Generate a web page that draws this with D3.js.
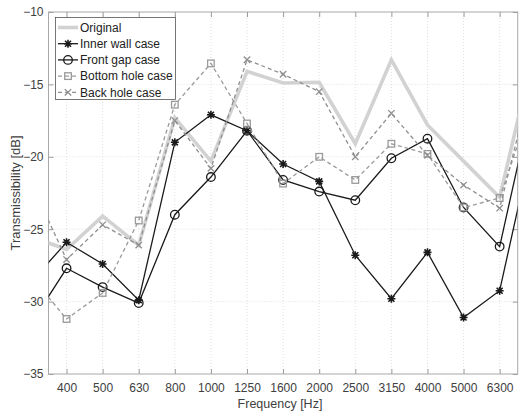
<!DOCTYPE html>
<html><head><meta charset="utf-8">
<script src="https://cdn.jsdelivr.net/npm/d3@7"></script>
<style>body{margin:0;background:#fff}svg{display:block}</style>
</head><body><svg id="c" width="527" height="412"></svg>
<script>
const freqs = ["315","400","500","630","800","1000","1250","1600","2000","2500","3150","4000","5000","6300","8000"];
const tickLabels = ["400","500","630","800","1000","1250","1600","2000","2500","3150","4000","5000","6300"];
const yTicks = [-35,-30,-25,-20,-15,-10];
const original   = [-25.5,-26.4,-24.1,-26.1,-17.3,-20.3,-14.1,-14.9,-14.85,-19.1,-13.3,-17.8,-20.3,-22.8,-12.2];
const innerWall  = [-28.7,-25.9,-27.4,-29.9,-19.0,-17.1,-18.2,-20.5,-21.7,-26.8,-29.8,-26.6,-31.1,-29.25,-18.0];
const frontGap   = [-31.6,-27.7,-29.0,-30.1,-24.0,-21.4,-18.2,-21.6,-22.4,-23.0,-20.1,-18.75,-23.5,-26.2,-15.0];
const bottomHole = [-28.2,-31.2,-29.4,-24.4,-16.4,-13.55,-17.7,-21.85,-20.0,-21.6,-19.1,-19.8,-23.5,-22.85,-15.5];
const backHole   = [-21.7,-27.1,-24.7,-26.1,-17.5,-20.8,-13.3,-14.3,-15.5,-20.0,-17.0,-19.9,-21.95,-23.55,-13.6];
const names = ["Original","Inner wall case","Front gap case","Bottom hole case","Back hole case"];

const L = 48.5, R = 517.7, T = 12, B = 374;
const svg = d3.select("#c");
const step = (R - L) / 13;
const x = d3.scalePoint().domain(freqs).range([L - 0.5*step, R + 0.5*step]);
const y = d3.scaleLinear().domain([-35,-10]).range([B, T]);

const font = "Helvetica, Arial, 'Liberation Sans', sans-serif";
// grid
const g = svg.append("g");
g.selectAll(".vg").data(tickLabels).join("line")
  .attr("x1", d=>x(d)).attr("x2", d=>x(d)).attr("y1", T).attr("y2", B)
  .attr("stroke", "#d8d8d8").attr("stroke-width", 0.8).attr("stroke-dasharray", "1,2");
g.selectAll(".hg").data(yTicks.slice(1,-1)).join("line")
  .attr("x1", L).attr("x2", R).attr("y1", d=>y(d)).attr("y2", d=>y(d))
  .attr("stroke", "#d8d8d8").attr("stroke-width", 0.8).attr("stroke-dasharray", "1,2");

// axes
const ax = d3.axisBottom(x).tickValues(tickLabels).tickSize(-5).tickPadding(9);
const axG = svg.append("g").attr("transform", `translate(0,${B})`).call(ax);
const axT = svg.append("g").attr("transform", `translate(0,${T})`).call(d3.axisTop(x).tickValues(tickLabels).tickSize(-5).tickFormat(""));
const ayG = svg.append("g").attr("transform", `translate(${L},0)`).call(d3.axisLeft(y).tickValues(yTicks).tickSize(-5).tickPadding(5));
const ayR = svg.append("g").attr("transform", `translate(${R},0)`).call(d3.axisRight(y).tickValues(yTicks).tickSize(-5).tickFormat(""));
[axG, axT, ayG, ayR].forEach(a => {
  a.select(".domain").remove();
  a.selectAll(".tick line").attr("stroke", "#9a9a9a");
  a.selectAll("text").attr("font-family", font).attr("font-size", 12).attr("fill", "#404040");
});
svg.append("rect").attr("x", L).attr("y", T).attr("width", R-L).attr("height", B-T)
  .attr("fill", "none").attr("stroke", "#a8a8a8").attr("stroke-width", 1);

// clip
svg.append("clipPath").attr("id","clip").append("rect").attr("x", L).attr("y", T).attr("width", R-L).attr("height", B-T);
const plot = svg.append("g").attr("clip-path", "url(#clip)");

const line = d3.line().x((d,i)=>x(freqs[i])).y(d=>y(d));
const series = [
  {v: original, color: "#d2d2d2", w: 3.6, dash: null, marker: null},
  {v: innerWall, color: "#1a1a1a", w: 1.3, dash: null, marker: "star"},
  {v: frontGap, color: "#1a1a1a", w: 1.3, dash: null, marker: "circle"},
  {v: bottomHole, color: "#9a9a9a", w: 1.3, dash: "4,3", marker: "square"},
  {v: backHole, color: "#8f8f8f", w: 1.3, dash: "4,3", marker: "x"}
];
function drawMarker(sel, type, color) {
  if (type === "star") {
    const s = 4;
    sel.append("path").attr("d", `M${-s},0H${s}M0,${-s}V${s}M${-s*0.75},${-s*0.75}L${s*0.75},${s*0.75}M${-s*0.75},${s*0.75}L${s*0.75},${-s*0.75}`)
      .attr("stroke", color).attr("stroke-width", 1.6).attr("fill", "none");
  } else if (type === "circle") {
    sel.append("circle").attr("r", 4.3).attr("fill", "none").attr("stroke", color).attr("stroke-width", 1.3);
  } else if (type === "square") {
    sel.append("rect").attr("x", -3.3).attr("y", -3.3).attr("width", 6.6).attr("height", 6.6)
      .attr("fill", "none").attr("stroke", color).attr("stroke-width", 1.3);
  } else if (type === "x") {
    const s = 3.2;
    sel.append("path").attr("d", `M${-s},${-s}L${s},${s}M${-s},${s}L${s},${-s}`)
      .attr("stroke", color).attr("stroke-width", 1.3).attr("fill", "none");
  }
}
series.forEach(s => {
  plot.append("path").attr("d", line(s.v)).attr("fill", "none").attr("stroke", s.color)
    .attr("stroke-width", s.w).attr("stroke-dasharray", s.dash).attr("stroke-linejoin", "miter");
  if (s.marker) {
    s.v.forEach((d,i) => {
      if (i === 0 || i === freqs.length-1) return;
      drawMarker(plot.append("g").attr("transform", `translate(${x(freqs[i])},${y(d)})`), s.marker, s.color);
    });
  }
});

// labels
svg.append("text").attr("x", 280).attr("y", 408).attr("text-anchor", "middle")
  .attr("font-family", font).attr("font-size", 12.5).attr("fill", "#404040").text("Frequency [Hz]");
svg.append("text").attr("transform", `translate(20,${(T+B)/2}) rotate(-90)`).attr("text-anchor", "middle")
  .attr("font-family", font).attr("font-size", 13).attr("fill", "#404040").text("Transmissibility [dB]");

// legend
const lg = svg.append("g");
lg.append("rect").attr("x", 55.5).attr("y", 17.5).attr("width", 120).attr("height", 82)
  .attr("fill", "#fff").attr("stroke", "#555").attr("stroke-width", 0.8);
series.forEach((s, i) => {
  const yy = 27.5 + i*16.2;
  lg.append("line").attr("x1", 58).attr("x2", 78).attr("y1", yy).attr("y2", yy)
    .attr("stroke", s.color).attr("stroke-width", s.w).attr("stroke-dasharray", s.dash);
  if (s.marker) drawMarker(lg.append("g").attr("transform", `translate(68,${yy})`), s.marker, s.color);
  lg.append("text").attr("x", 80).attr("y", yy + 4.3).attr("font-family", font).attr("font-size", 12)
    .attr("fill", "#222").text(names[i]);
});
</script></body></html>
